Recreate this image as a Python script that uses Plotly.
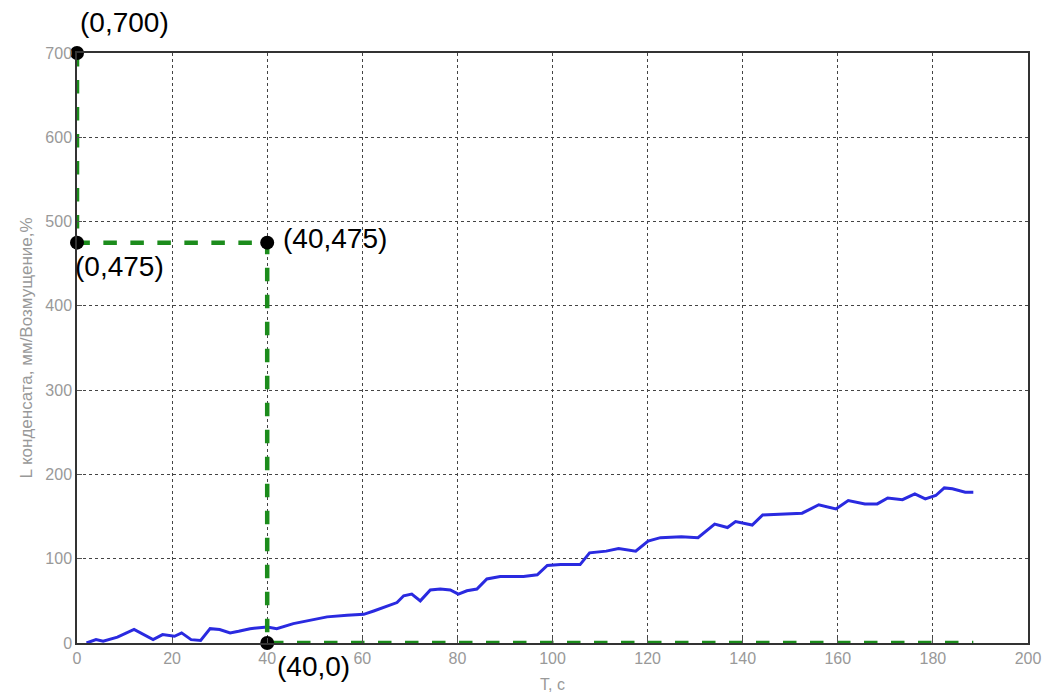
import plotly.graph_objects as go

# Condensate level over time
t = [2, 4, 5.5, 8.5, 12, 16, 18, 20.5, 22, 24, 26, 28, 30, 32.2, 34, 36.4, 40, 42, 45.5, 49,
     52.6, 56.8, 60.3, 62.4, 65.2, 67.3, 68.7, 70.4, 72.2, 74.3, 76.4, 78.5, 80.2, 82, 84.1,
     86.2, 89, 91.8, 93.9, 96.8, 98.9, 101.7, 105.8, 107.8, 111.3, 113.9, 117.5, 120.1, 122.7,
     127.1, 130.6, 134.1, 136.8, 138.5, 142, 144.2, 149, 152.5, 156, 159.6, 162.2, 165.7,
     168.3, 170.5, 173.6, 176.2, 178.4, 180.6, 182.4, 184.1, 186.8, 188.5]
level = [0, 4, 2, 7, 16, 4, 10, 8, 12, 4, 3, 17, 16, 12, 14, 17, 19, 17, 23, 27,
         31, 33, 34, 38, 44, 48, 56, 58, 50, 63, 64, 63, 58, 62, 64,
         76, 79, 79, 79, 81, 92, 93, 93, 107, 109, 112, 109, 121, 125,
         126, 125, 141, 137, 144, 140, 152, 153, 154, 164, 159, 169, 165,
         165, 172, 170, 177, 171, 175, 184, 183, 179, 179]

# Disturbance profile (green dashed)
dist_t = [0, 0, 40, 40, 188.5]
dist_v = [700, 475, 475, 0, 0]

# Key points
pt_t = [0, 0, 40, 40]
pt_v = [700, 475, 475, 0]
pt_labels = ["(0,700)", "(0,475)", "(40,475)", "(40,0)"]

x_ticks = [0, 20, 40, 60, 80, 100, 120, 140, 160, 180, 200]
y_ticks = [0, 100, 200, 300, 400, 500, 600, 700]

fig = go.Figure()
fig.add_trace(go.Scatter(x=t, y=level, mode="lines",
                         line=dict(color="#2a2ae0", width=3), showlegend=False))
fig.add_trace(go.Scatter(x=dist_t, y=dist_v, mode="lines",
                         line=dict(color="#1c8c1c", width=4.5, dash="dash"), showlegend=False))
fig.add_trace(go.Scatter(x=pt_t, y=pt_v, mode="markers", cliponaxis=False,
                         marker=dict(color="black", size=14), showlegend=False))

# Point labels
offsets = [
    dict(xanchor="left", yanchor="bottom", xshift=1, yshift=13),
    dict(xanchor="left", yanchor="top", xshift=-4, yshift=-6),
    dict(xanchor="left", yanchor="middle", xshift=14, yshift=4),
    dict(xanchor="left", yanchor="top", xshift=8, yshift=-6),
]
for x, y, s, o in zip(pt_t, pt_v, pt_labels, offsets):
    fig.add_annotation(x=x, y=y, text=s, showarrow=False,
                       font=dict(family="Liberation Sans, Arial", size=28, color="black"), **o)

axis_common = dict(
    showline=True, linecolor="#333333", linewidth=1.5, mirror=True,
    showgrid=True, gridcolor="#444444", griddash="3px,3px", gridwidth=1.2,
    ticks="inside", ticklen=5, tickcolor="#555555",
    tickfont=dict(family="Liberation Sans, Arial", size=16, color="#999999"),
    zeroline=False, automargin=False,
)
fig.update_xaxes(range=[0, 200], tickvals=x_ticks, **axis_common,
                 title=dict(text="T, c", font=dict(family="Liberation Sans, Arial", size=16, color="#999999"),
                            standoff=13))
fig.update_yaxes(range=[0, 700], tickvals=y_ticks, **axis_common,
                 title=dict(text="L конденсата, мм/Возмущение,%",
                            font=dict(family="Liberation Sans, Arial", size=17, color="#999999"),
                            standoff=8))

fig.update_layout(
    width=1054, height=698,
    margin=dict(l=77, r=26, t=53, b=55),
    paper_bgcolor="white", plot_bgcolor="white",
)
fig.write_html("out.html")
